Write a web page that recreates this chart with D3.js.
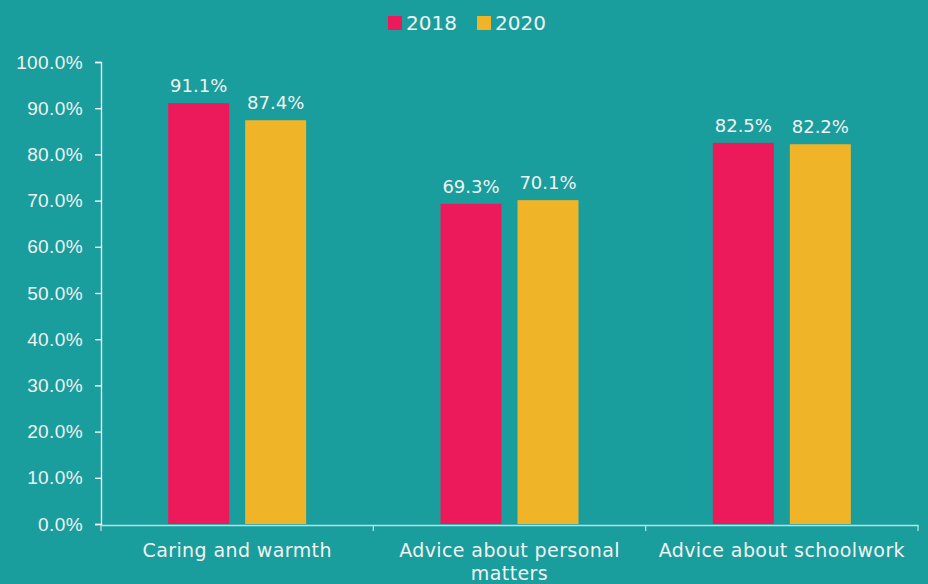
<!DOCTYPE html>
<html>
<head>
<meta charset="utf-8">
<script src="https://cdn.jsdelivr.net/npm/d3@7"></script>
<style>
  html, body { margin: 0; padding: 0; background: #199e9d; }
  svg { display: block; font-family: "DejaVu Sans", sans-serif; }
</style>
</head>
<body>
<svg id="chart"></svg>
<script>
const categories = ["Caring and warmth", "Advice about personal matters", "Advice about schoolwork"];
const seriesNames = ["2018", "2020"];
const values2018 = [91.1, 69.3, 82.5];
const values2020 = [87.4, 70.1, 82.2];
const yTicks = [0, 10, 20, 30, 40, 50, 60, 70, 80, 90, 100];
const colors = ["#ed1a5b", "#f0b429"];

const width = 928, height = 584;
const margin = {top: 62, right: 10, bottom: 60, left: 101};

const svg = d3.select("#chart")
    .attr("width", width)
    .attr("height", height);

svg.append("rect")
    .attr("width", width)
    .attr("height", height)
    .attr("fill", "#199e9d");

const x = d3.scaleBand()
    .domain(categories)
    .range([margin.left, 918]);

const y = d3.scaleLinear()
    .domain([0, 100])
    .range([524, margin.top]);

const barW = 61, gap = 16;
const rows = categories.map((c, i) => ({cat: c, vals: [values2018[i], values2020[i]]}));

// y axis
const yAxis = svg.append("g")
    .attr("transform", `translate(${margin.left},0)`)
    .call(d3.axisLeft(y).tickValues(yTicks).tickSize(6).tickPadding(12)
        .tickFormat(d => d.toFixed(1) + "%"));
yAxis.select(".domain").attr("stroke", "#ffffff").attr("stroke-width", 1.3);
yAxis.selectAll(".tick line").attr("stroke", "#ffffff").attr("stroke-width", 1.3);
yAxis.selectAll(".tick text")
    .attr("fill", "#f2f2f2")
    .style("font-size", "19px")
    .style("letter-spacing", "0.4px");

// bars
const groups = svg.append("g").selectAll("g")
    .data(rows)
    .join("g")
    .attr("transform", d => `translate(${x(d.cat) + x.bandwidth() / 2},0)`);

groups.selectAll("rect")
    .data(d => d.vals)
    .join("rect")
    .attr("x", (v, i) => i === 0 ? -barW - gap / 2 : gap / 2)
    .attr("y", v => y(v))
    .attr("width", barW)
    .attr("height", v => y(0) - y(v))
    .attr("fill", (v, i) => colors[i]);

groups.selectAll("text")
    .data(d => d.vals)
    .join("text")
    .attr("x", (v, i) => i === 0 ? -barW / 2 - gap / 2 : barW / 2 + gap / 2)
    .attr("y", v => y(v) - 11)
    .attr("text-anchor", "middle")
    .attr("fill", "#f2f2f2")
    .style("font-size", "18px")
    .text(v => v.toFixed(1) + "%");

// x axis
const xAxis = svg.append("g")
    .attr("transform", `translate(0,${y(0) + 1})`)
    .call(d3.axisBottom(x).tickSize(0).tickPadding(0));
xAxis.select(".domain").attr("stroke", "#b8e2e2").attr("stroke-width", 1.5);
xAxis.selectAll(".tick text").remove();

const edges = categories.map(c => x(c)).concat([x(categories[categories.length - 1]) + x.bandwidth()]);
xAxis.selectAll("line.sep")
    .data(edges)
    .join("line")
    .attr("class", "sep")
    .attr("x1", d => d).attr("x2", d => d)
    .attr("y1", 0).attr("y2", 6)
    .attr("stroke", "#b8e2e2")
    .attr("stroke-width", 1.3);

// category labels, wrapped to band width
function wrapLines(words, maxW, sizePx) {
    const probe = svg.append("text")
        .style("font-size", sizePx + "px")
        .style("letter-spacing", "0.4px");
    const lines = [];
    let line = [];
    words.forEach(w => {
        const test = line.concat([w]).join(" ");
        probe.text(test);
        if (probe.node().getComputedTextLength() > maxW && line.length) {
            lines.push(line.join(" "));
            line = [w];
        } else {
            line.push(w);
        }
    });
    lines.push(line.join(" "));
    probe.remove();
    return lines;
}

categories.forEach(c => {
    const lines = wrapLines(c.split(" "), x.bandwidth() - 8, 19);
    const t = svg.append("text")
        .attr("text-anchor", "middle")
        .attr("fill", "#f2f2f2")
        .style("font-size", "19px")
        .style("letter-spacing", "0.4px");
    lines.forEach((l, i) => {
        t.append("tspan")
            .attr("x", x(c) + x.bandwidth() / 2)
            .attr("y", 557 + i * 23)
            .text(l);
    });
});

// legend
const legend = svg.append("g").attr("transform", "translate(388,16)");
const legendX = [0, 89];
seriesNames.forEach((s, i) => {
    const lg = legend.append("g").attr("transform", `translate(${legendX[i]},0)`);
    lg.append("rect").attr("width", 14).attr("height", 14).attr("fill", colors[i]);
    lg.append("text")
        .attr("x", 18)
        .attr("y", 14)
        .attr("fill", "#f2f2f2")
        .style("font-size", "20px")
        .text(s);
});
</script>
</body>
</html>
